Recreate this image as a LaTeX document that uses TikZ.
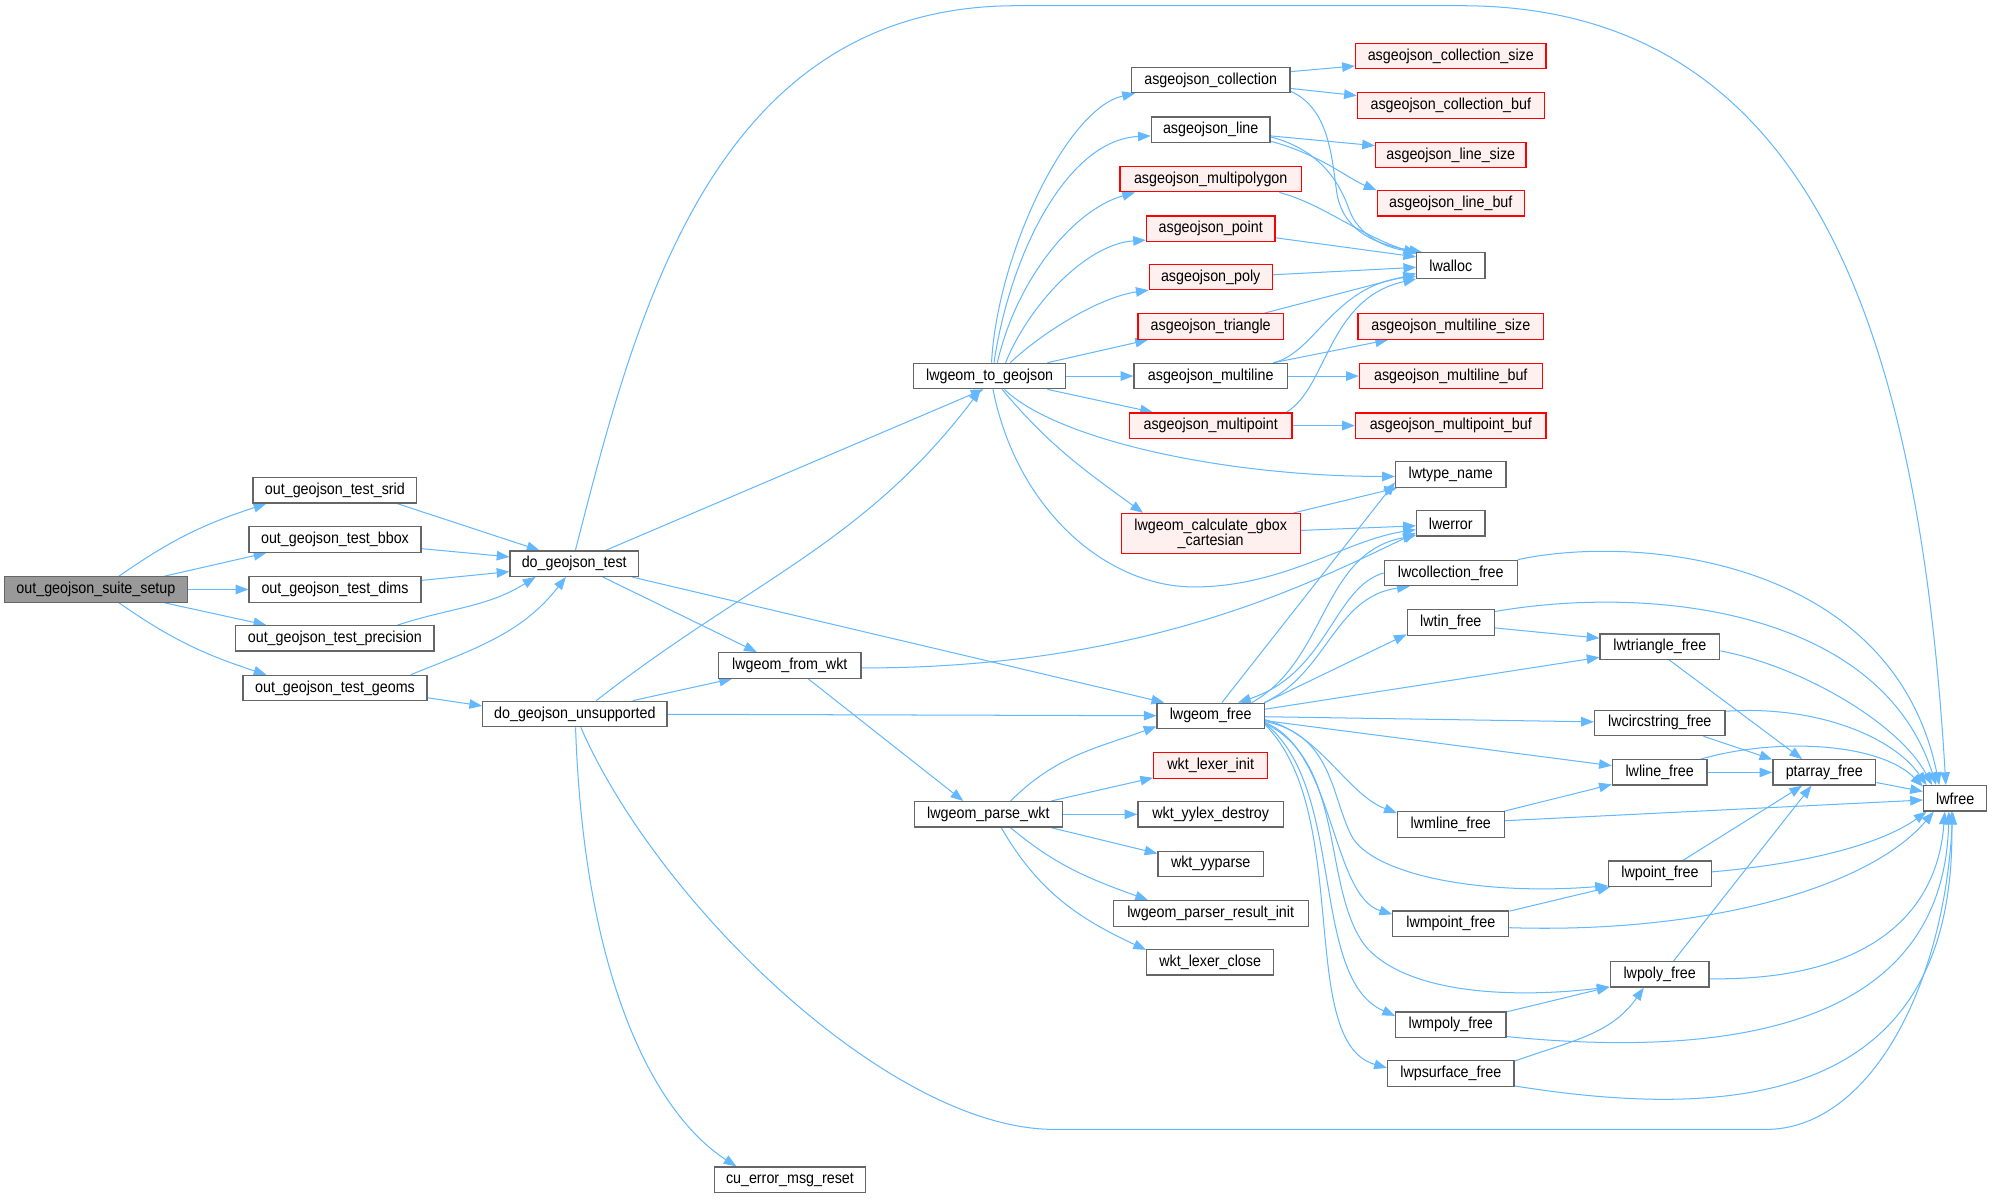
\documentclass[tikz,border=0pt]{standalone}
\usepackage{fontspec}
\setmainfont[FakeStretch=0.9]{Liberation Sans}
\usetikzlibrary{arrows.meta,backgrounds}
\definecolor{eblue}{HTML}{63B8FF}
\definecolor{nborder}{HTML}{666666}
\definecolor{rborder}{HTML}{FF0000}
\definecolor{rfill}{HTML}{FFF0F0}
\definecolor{rootfill}{HTML}{999999}
\pgfdeclarelayer{canvas}
\pgfsetlayers{canvas,background,main}
\begin{document}
\begin{tikzpicture}[x=1pt,y=1pt,
  fn/.style={draw=nborder, fill=white, line width=1pt, minimum height=20pt, inner sep=0pt, font=\fontsize{12.5}{12}\selectfont},
  hot/.style={fn, draw=rborder, fill=rfill},
  rootn/.style={fn, fill=rootfill},
  e/.style={draw=eblue, line width=0.8pt, -{Triangle[length=10pt,width=7.5pt]}}]
\begin{pgfonlayer}{canvas}
\fill[white] (0,0) rectangle (1568,-943);
\end{pgfonlayer}
\useasboundingbox (0,0) rectangle (1568,-943);
% column 0-2
\node[rootn, minimum width=144pt] (S) at (75.5,-464) {out\_geojson\_suite\_setup};
\node[fn, minimum width=129pt] (srid) at (263.6,-386) {out\_geojson\_test\_srid};
\node[fn, minimum width=135.4pt] (bbox) at (263.7,-424.7) {out\_geojson\_test\_bbox};
\node[fn, minimum width=135.4pt] (dims) at (263.7,-464) {out\_geojson\_test\_dims};
\node[fn, minimum width=156pt] (prec) at (263.6,-502.5) {out\_geojson\_test\_precision};
\node[fn, minimum width=145pt] (geoms) at (263.7,-541.6) {out\_geojson\_test\_geoms};
\node[fn, minimum width=101pt] (T) at (452,-443.7) {do\_geojson\_test};
\node[fn, minimum width=145pt] (U) at (452.5,-562) {do\_geojson\_unsupported};
% column 3
\node[fn, minimum width=119.5pt] (G) at (779,-296) {lwgeom\_to\_geojson};
\node[fn, minimum width=112pt] (W) at (621.7,-523.8) {lwgeom\_from\_wkt};
\node[fn, minimum width=118.5pt] (C) at (621.8,-928.6) {cu\_error\_msg\_reset};
\node[fn, minimum width=116.7pt] (P) at (778,-641) {lwgeom\_parse\_wkt};
% column 4
\node[fn, minimum width=125pt] (coll) at (953,-63) {asgeojson\_collection};
\node[fn, minimum width=93.5pt] (line) at (953,-102) {asgeojson\_line};
\node[hot, minimum width=142.6pt] (mpg) at (953,-141) {asgeojson\_multipolygon};
\node[hot, minimum width=101pt] (point) at (953,-180) {asgeojson\_point};
\node[hot, minimum width=96.7pt] (poly) at (953,-218) {asgeojson\_poly};
\node[hot, minimum width=114.5pt] (tri) at (953,-257) {asgeojson\_triangle};
\node[fn, minimum width=120.7pt] (ml) at (953,-296) {asgeojson\_multiline};
\node[hot, minimum width=128pt] (mp) at (953,-335) {asgeojson\_multipoint};
\node[hot, minimum width=141pt, minimum height=31.5pt, align=center] (B) at (953,-420) {lwgeom\_calculate\_gbox\\\_cartesian};
\node[fn, minimum width=84.4pt] (F) at (953,-563.5) {lwgeom\_free};
\node[hot, minimum width=89.7pt] (LI) at (953,-602.6) {wkt\_lexer\_init};
\node[fn, minimum width=114.5pt] (yd) at (953,-641) {wkt\_yylex\_destroy};
\node[fn, minimum width=83pt] (yp) at (953,-680) {wkt\_yyparse};
\node[fn, minimum width=153.4pt] (pri) at (953,-719) {lwgeom\_parser\_result\_init};
\node[fn, minimum width=100pt] (wlc) at (952.6,-757.5) {wkt\_lexer\_close};
% column 5
\node[hot, minimum width=150pt] (cs) at (1142,-44) {asgeojson\_collection\_size};
\node[hot, minimum width=147pt] (cb) at (1142,-83) {asgeojson\_collection\_buf};
\node[hot, minimum width=118.5pt] (ls) at (1142,-122) {asgeojson\_line\_size};
\node[hot, minimum width=116pt] (lb) at (1142,-160) {asgeojson\_line\_buf};
\node[fn, minimum width=53.6pt] (A) at (1142,-209) {lwalloc};
\node[hot, minimum width=146pt] (mls) at (1142,-257) {asgeojson\_multiline\_size};
\node[hot, minimum width=144pt] (mlb) at (1142,-296) {asgeojson\_multiline\_buf};
\node[hot, minimum width=150pt] (mpb) at (1142,-335) {asgeojson\_multipoint\_buf};
\node[fn, minimum width=87pt] (N) at (1142,-373.5) {lwtype\_name};
\node[fn, minimum width=54pt] (E) at (1142,-412) {lwerror};
\node[fn, minimum width=104.7pt] (LC) at (1142,-451) {lwcollection\_free};
\node[fn, minimum width=68.6pt] (TF) at (1142,-490) {lwtin\_free};
\node[fn, minimum width=84pt] (MLF) at (1142,-649) {lwmline\_free};
\node[fn, minimum width=91.3pt] (MPF) at (1142,-727) {lwmpoint\_free};
\node[fn, minimum width=86.8pt] (MPLF) at (1142,-806.6) {lwmpoly\_free};
\node[fn, minimum width=99.6pt] (PSF) at (1142,-845) {lwpsurface\_free};
% column 6-8
\node[fn, minimum width=94.2pt] (TR) at (1306.6,-509) {lwtriangle\_free};
\node[fn, minimum width=102.8pt] (CS) at (1306.5,-569) {lwcircstring\_free};
\node[fn, minimum width=74.4pt] (LF) at (1306.4,-608) {lwline\_free};
\node[fn, minimum width=81pt] (PF) at (1306.6,-687.7) {lwpoint\_free};
\node[fn, minimum width=77.8pt] (PLF) at (1306.4,-767) {lwpoly\_free};
\node[fn, minimum width=81pt] (PA) at (1436,-608) {ptarray\_free};
\node[fn, minimum width=49.8pt] (LW) at (1539,-628.4) {lwfree};

\begin{scope}[on background layer]
% root
\draw[e] (S.30) to[out=35,in=198] (srid.191);
\draw[e] (S.11.5) -- (bbox.191);
\draw[e] (S) -- (dims);
\draw[e] (S.-11.5) -- (prec.169);
\draw[e] (S.-30) to[out=-35,in=162] (geoms.169);
% tests
\draw[e] (srid.-12) -- (T.159);
\draw[e] (bbox.-6) -- (T.174);
\draw[e] (dims.6) -- (T.187);
\draw[e] (prec.12) to[out=18,in=212] (T.199);
\draw[e] (geoms.10) to[out=22,in=232] (T.238);
\draw[e] (geoms.-6) -- (U.175);
% do_geojson_test
\draw[e] (T.85) .. controls (500,-250) and (560,-4.5) .. (800,-4.5) -- (1150,-4.5) .. controls (1420,-4.5) and (1510,-250) .. (LW.125);
\draw[e] (T.23) -- (G.245);
\draw[e] (T.-25) -- (W.158);
\draw[e] (T.-13) -- (F.164);
% do_geojson_unsupported
\draw[e] (U.32) to[out=38,in=233] (G.236);
\draw[e] (U.13) -- (W.193);
\draw[e] (U) -- (F);
\draw[e] (U.-66) .. controls (517,-710) and (700,-889) .. (830,-889) -- (1390,-889) .. controls (1470,-889) and (1530,-780) .. (LW.-100);
\draw[e] (U.-87) .. controls (460,-780) and (520,-880) .. (C.166);
% lwgeom_from_wkt
\draw[e] (W.-2) .. controls (900,-526) and (1030,-460) .. (E.195);
\draw[e] (W.-36) -- (P.152);
% lwgeom_to_geojson
\draw[e] (G.82) .. controls (785,-200) and (840,-85) .. (coll.190);
\draw[e] (G.72) .. controls (795,-200) and (840,-110) .. (line.186);
\draw[e] (G.60) .. controls (800,-220) and (845,-165) .. (mpg.190);
\draw[e] (G.40) .. controls (810,-240) and (855,-192) .. (point.190);
\draw[e] (G.33) .. controls (820,-262) and (865,-234) .. (poly.192);
\draw[e] (G.13) -- (tri.192);
\draw[e] (G) -- (ml);
\draw[e] (G.-13) -- (mp.167);
\draw[e] (G.-42) .. controls (830,-345) and (960,-375) .. (N.182);
\draw[e] (G.-47) to[out=-50,in=144] (B.163);
\draw[e] (G.-76) .. controls (800,-400) and (870,-462) .. (940,-462) .. controls (1010,-462) and (1060,-425) .. (E.190);
% asgeojson_*
\draw[e] (coll.6) -- (cs.186);
\draw[e] (coll.-6) -- (cb.174);
\draw[e] (coll.-8.4) .. controls (1045,-85) and (1048,-120) .. (1052,-150) .. controls (1056,-180) and (1080,-192) .. (A.155);
\draw[e] (line.-6) -- (ls.173);
\draw[e] (line.-11) .. controls (1040,-122) and (1060,-140) .. (lb.170);
\draw[e] (line.-7) .. controls (1040,-118) and (1055,-145) .. (1062,-165) .. controls (1069,-185) and (1090,-195) .. (A.158);
\draw[e] (mpg.-11.4) .. controls (1040,-160) and (1070,-185) .. (A.161);
\draw[e] (point.-8.5) -- (A.166);
\draw[e] (poly.2) -- (A.183);
\draw[e] (tri.14) -- (A.193);
\draw[e] (ml.12) .. controls (1035,-278) and (1050,-225) .. (A.197);
\draw[e] (ml.12) -- (mls.192);
\draw[e] (ml) -- (mlb);
\draw[e] (mp.10) .. controls (1045,-305) and (1045,-235) .. (A.201);
\draw[e] (mp) -- (mpb);
% gbox
\draw[e] (B.14) -- (N.194);
\draw[e] (B.2.6) -- (E.184);
% lwgeom_parse_wkt
\draw[e] (P.31) to[out=45,in=200] (F.191);
\draw[e] (P.12) -- (LI.192);
\draw[e] (P) -- (yd);
\draw[e] (P.-12) -- (yp.169);
\draw[e] (P.-31) to[out=-40,in=160] (pri.168);
\draw[e] (P.-46) to[out=-60,in=155] (wlc.169);
% lwgeom_free
\draw[e] (F.50) -- (N.188);
\draw[e] (F.18) .. controls (1045,-520) and (1040,-435) .. (E.199);
\draw[e] (F.14) .. controls (1045,-530) and (1050,-470) .. (LC.198);
\draw[e] (LC.west) .. controls (1050,-462) and (1045,-530) .. (F.26);
\draw[e] (F.north east) -- (TF.195);
\draw[e] (F.7) -- (TR.190);
\draw[e] (F) -- (CS);
\draw[e] (F.-5) -- (LF.172);
\draw[e] (F.-4) .. controls (1040,-578) and (1060,-625) .. (MLF.168);
\draw[e] (F.-6) .. controls (1050,-578) and (1048,-630) .. (1065,-660) .. controls (1085,-690) and (1170,-705) .. (PF.193);
\draw[e] (F.-7) .. controls (1050,-590) and (1048,-705) .. (MPF.171);
\draw[e] (F.-8) .. controls (1060,-600) and (1040,-700) .. (1075,-745) .. controls (1110,-785) and (1200,-785) .. (PLF.194);
\draw[e] (F.-8) .. controls (1060,-620) and (1030,-770) .. (MPLF.171);
\draw[e] (F.-9) .. controls (1065,-640) and (1020,-820) .. (PSF.175);
% free functions
\draw[e] (LC.north east) .. controls (1290,-420) and (1490,-440) .. (LW.140);
\draw[e] (TF.-7) -- (TR.172);
\draw[e] (TF.14) .. controls (1300,-460) and (1480,-480) .. (LW.145);
\draw[e] (TR.-55) -- (PA.149);
\draw[e] (TR.-4) .. controls (1420,-525) and (1495,-570) .. (LW.150);
\draw[e] (CS.-17) -- (PA.166);
\draw[e] (CS.10) .. controls (1430,-555) and (1490,-580) .. (LW.155);
\draw[e] (LF) -- (PA);
\draw[e] (LF.18) .. controls (1400,-580) and (1480,-585) .. (LW.160);
\draw[e] (PA.-11) -- (LW.168);
\draw[e] (MLF.14) -- (LF.194);
\draw[e] (MLF.4) -- (LW.183);
\draw[e] (PF.30) -- (PA.211);
\draw[e] (PF.2) .. controls (1420,-680) and (1480,-665) .. (LW.-155);
\draw[e] (MPF.12) -- (PF.195);
\draw[e] (MPF.-4) .. controls (1340,-735) and (1470,-700) .. (LW.-148);
\draw[e] (PLF.44) -- (PA.226);
\draw[e] (PLF.-5) .. controls (1470,-772) and (1525,-720) .. (LW.-128);
\draw[e] (MPLF.13) -- (PLF.194);
\draw[e] (MPLF.-12) .. controls (1380,-835) and (1530,-800) .. (LW.-115);
\draw[e] (PSF.11) to[out=20,in=235] (PLF.220);
\draw[e] (PSF.-11) .. controls (1380,-885) and (1540,-860) .. (LW.-105);
\end{scope}
\end{tikzpicture}
\end{document}
